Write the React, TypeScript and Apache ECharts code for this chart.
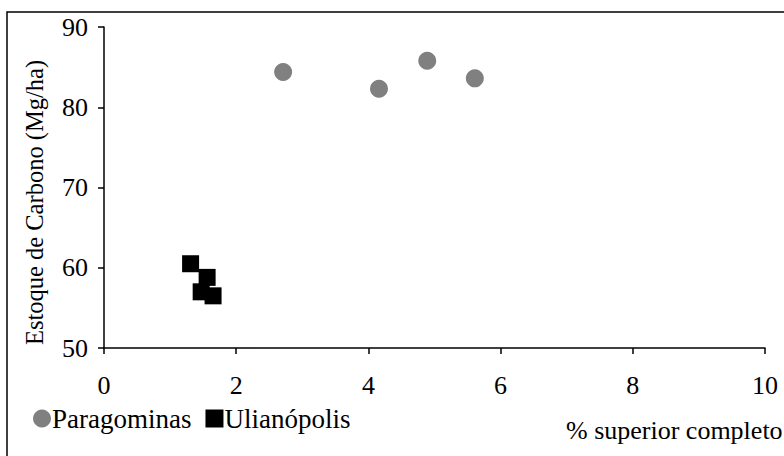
import React, { useEffect, useRef } from "react";
import * as echarts from "echarts";

const paragominasX = [2.71, 4.16, 4.89, 5.61];
const paragominasY = [84.4, 82.3, 85.8, 83.6];
const ulianopolisX = [1.31, 1.56, 1.47, 1.65];
const ulianopolisY = [60.5, 58.8, 57.0, 56.5];
const seriesNames = ["Paragominas", "Ulianópolis"];
const xTitle = "% superior completo";
const yTitle = "Estoque de Carbono (Mg/ha)";

const FONT = "Liberation Serif";
const FS = 26;

export default function App() {
  const ref = useRef<HTMLDivElement>(null);
  useEffect(() => {
    if (!ref.current) return;
    const chart = echarts.init(ref.current, null, { renderer: "svg" });
    const pairs = (xs: number[], ys: number[]) => xs.map((x, i) => [x, ys[i]]);
    chart.setOption({
      animation: false,
      backgroundColor: "#fff",
      textStyle: { fontFamily: FONT },
      grid: { left: 104, top: 27, right: 19, bottom: 108 },
      xAxis: {
        type: "value",
        min: 0,
        max: 10,
        interval: 2,
        splitLine: { show: false },
        axisLine: { onZero: false, lineStyle: { color: "#000", width: 1.5 } },
        axisTick: { show: true, inside: false, length: 6, lineStyle: { color: "#000", width: 1.5 } },
        axisLabel: { color: "#000", fontSize: FS, fontFamily: FONT, margin: 24 },
      },
      yAxis: {
        type: "value",
        min: 50,
        max: 90,
        interval: 10,
        splitLine: { show: false },
        axisLine: { show: true, lineStyle: { color: "#000", width: 1.5 } },
        axisTick: { show: true, inside: false, length: 6, lineStyle: { color: "#000", width: 1.5 } },
        axisLabel: { color: "#000", fontSize: FS, fontFamily: FONT, margin: 16 },
        name: yTitle,
        nameLocation: "middle",
        nameGap: 57,
        nameTextStyle: { color: "#000", fontSize: 24.5, fontFamily: FONT, padding: [0, 30, 0, 0] },
      },
      legend: {
        left: 28,
        top: 400,
        itemGap: 14,
        itemWidth: 18,
        itemHeight: 18,
        textStyle: { color: "#000", fontSize: 27, fontFamily: FONT, padding: [0, 0, 0, -4] },
        data: [
          { name: seriesNames[0], icon: "circle" },
          { name: seriesNames[1], icon: "rect" },
        ],
      },
      graphic: [
        {
          type: "rect",
          shape: { x: 7, y: 12, width: 900, height: 600 },
          style: { fill: "none", stroke: "#000", lineWidth: 1.5 },
          silent: true,
        },
        {
          type: "text",
          x: 566,
          y: 430,
          style: {
            text: xTitle,
            fill: "#000",
            fontSize: FS,
            fontFamily: FONT,
            verticalAlign: "middle",
          },
        },
      ],
      series: [
        {
          name: seriesNames[0],
          type: "scatter",
          symbol: "circle",
          symbolSize: 18,
          itemStyle: { color: "#808080", opacity: 1 },
          data: pairs(paragominasX, paragominasY),
        },
        {
          name: seriesNames[1],
          type: "scatter",
          symbol: "rect",
          symbolSize: 17,
          itemStyle: { color: "#000", opacity: 1 },
          data: pairs(ulianopolisX, ulianopolisY),
        },
      ],
    });
    return () => chart.dispose();
  }, []);
  return <div ref={ref} style={{ width: 784, height: 456, position: "absolute", left: 0, top: 0 }} />;
}
